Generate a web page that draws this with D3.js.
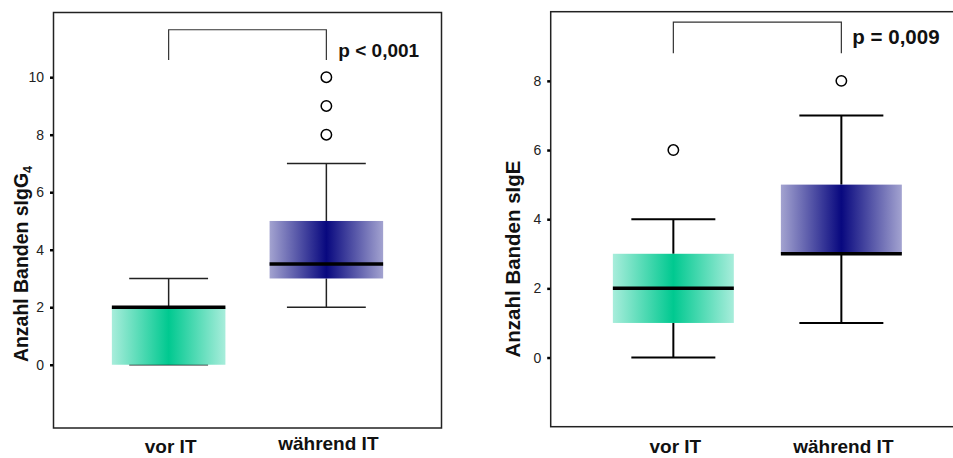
<!DOCTYPE html>
<html>
<head>
<meta charset="utf-8">
<script src="https://cdn.jsdelivr.net/npm/d3@7"></script>
<style>
  body { margin: 0; background: #fff; }
  svg { display: block; font-family: "Liberation Sans", Arial, sans-serif; }
</style>
</head>
<body>
<script>
var groups = ["vor IT", "während IT"];

// Panel 1: Anzahl Banden sIgG4
var g4Ticks = [0, 2, 4, 6, 8, 10];
var g4Low = [0, 2];
var g4Q1 = [0, 3];
var g4Median = [2, 3.5];
var g4Q3 = [2, 5];
var g4High = [3, 7];
var g4Outliers = [[], [8, 9, 10]];

// Panel 2: Anzahl Banden sIgE
var eTicks = [0, 2, 4, 6, 8];
var eLow = [0, 1];
var eQ1 = [1, 3];
var eMedian = [2, 3];
var eQ3 = [3, 5];
var eHigh = [4, 7];
var eOutliers = [[6], [8]];

var pLabels = ["p < 0,001", "p = 0,009"];

var width = 953, height = 458;

var svg = d3.select("body").append("svg")
  .attr("width", width)
  .attr("height", height);

var defs = svg.append("defs");
function grad(id, edge, mid) {
  var g = defs.append("linearGradient").attr("id", id)
    .attr("x1", "0%").attr("x2", "100%").attr("y1", "0%").attr("y2", "0%");
  g.append("stop").attr("offset", "0%").attr("stop-color", edge);
  g.append("stop").attr("offset", "50%").attr("stop-color", mid);
  g.append("stop").attr("offset", "100%").attr("stop-color", edge);
}
grad("gGreen", "#a8eddb", "#00c990");
grad("gBlue", "#a3a3d0", "#08087f");
var fills = ["url(#gGreen)", "url(#gBlue)"];

var panels = [
  { low: g4Low, q1: g4Q1, med: g4Median, q3: g4Q3, high: g4High, out: g4Outliers,
    ticks: g4Ticks, domain: [-2.2, 12.25],
    x0: 53.5, x1: 441.5, y0: 12.5, y1: 428,
    whiskerW: 1.5, whiskerC: "#222",
    label: "Anzahl Banden sIgG", sub: "4", labelX: 21, labelY: 264, labelSize: 20, labelLen: 197,
    bracket: [11.65, 10.6], p: pLabels[0], pdx: 12, pY: 57, pSize: 19,
    xlabY: [453, 450] },
  { low: eLow, q1: eQ1, med: eMedian, q3: eQ3, high: eHigh, out: eOutliers,
    ticks: eTicks, domain: [-2, 10],
    x0: 550.7, x1: 964, y0: 11.7, y1: 426.7,
    whiskerW: 2, whiskerC: "#000",
    label: "Anzahl Banden sIgE", sub: "", labelX: 513, labelY: 259, labelSize: 21, labelLen: 197,
    bracket: [9.7, 8.8], p: pLabels[1], pdx: 11, pY: 44, pSize: 20.5,
    xlabY: [453, 453] }
];

panels.forEach(function(P) {
  var g = svg.append("g");
  var x = d3.scalePoint().domain(groups).range([P.x0, P.x1]).padding(0.73);
  var y = d3.scaleLinear().domain(P.domain).range([P.y1, P.y0]);
  var step = x.step();
  var boxW = step * 0.72, capW = step * 0.5;

  // frame
  g.append("rect")
    .attr("x", P.x0).attr("y", P.y0)
    .attr("width", P.x1 - P.x0).attr("height", P.y1 - P.y0)
    .attr("fill", "none").attr("stroke", "#222").attr("stroke-width", 1.5);

  // y axis: small ticks + labels
  var axis = d3.axisLeft(y).tickValues(P.ticks).tickSize(3).tickPadding(6).tickFormat(d3.format("d"));
  var ax = g.append("g").attr("transform", "translate(" + (P.x0 - 0.5) + ",0)").call(axis);
  ax.select(".domain").remove();
  ax.selectAll(".tick line").attr("stroke", "#000").attr("stroke-width", 2.5);
  ax.selectAll(".tick text")
    .attr("font-size", 14).attr("fill", "#222")
    .attr("font-family", "Liberation Sans, Arial, sans-serif");

  // y label, stretched along its length to match the original
  var t = g.append("text")
    .attr("text-anchor", "middle").attr("dy", "0.35em")
    .attr("font-size", P.labelSize).attr("font-weight", "bold").attr("fill", "#111");
  t.append("tspan").text(P.label);
  if (P.sub) {
    t.append("tspan").attr("font-size", P.labelSize * 0.65).attr("dy", "0.3em").text(P.sub);
  }
  var len = t.node().getBBox().width;
  var s = P.labelLen / len;
  t.attr("transform", "translate(" + P.labelX + "," + P.labelY + ") rotate(-90) scale(" + s + ",1)");

  // whiskers
  groups.forEach(function(grp, i) {
    var cx = x(grp);
    g.append("line").attr("x1", cx).attr("x2", cx)
      .attr("y1", y(P.q3[i])).attr("y2", y(P.high[i]))
      .attr("stroke", P.whiskerC).attr("stroke-width", P.whiskerW);
    g.append("line").attr("x1", cx).attr("x2", cx)
      .attr("y1", y(P.q1[i])).attr("y2", y(P.low[i]))
      .attr("stroke", P.whiskerC).attr("stroke-width", P.whiskerW);
    [P.high[i], P.low[i]].forEach(function(v) {
      g.append("line").attr("x1", cx - capW / 2).attr("x2", cx + capW / 2)
        .attr("y1", y(v)).attr("y2", y(v))
        .attr("stroke", P.whiskerC).attr("stroke-width", P.whiskerW);
    });
  });

  // boxes
  g.selectAll("rect.box").data(groups).enter().append("rect")
    .attr("class", "box")
    .attr("x", function(d) { return x(d) - boxW / 2; })
    .attr("y", function(d, i) { return y(P.q3[i]); })
    .attr("width", boxW)
    .attr("height", function(d, i) { return y(P.q1[i]) - y(P.q3[i]); })
    .attr("fill", function(d, i) { return fills[i]; });

  // medians
  g.selectAll("line.med").data(groups).enter().append("line")
    .attr("class", "med")
    .attr("x1", function(d) { return x(d) - boxW / 2; })
    .attr("x2", function(d) { return x(d) + boxW / 2; })
    .attr("y1", function(d, i) { return y(P.med[i]); })
    .attr("y2", function(d, i) { return y(P.med[i]); })
    .attr("stroke", "#000").attr("stroke-width", 3.5);

  // outliers
  groups.forEach(function(grp, i) {
    g.selectAll(null).data(P.out[i]).enter().append("circle")
      .attr("cx", x(grp)).attr("cy", function(d) { return y(d); })
      .attr("r", 5.2)
      .attr("fill", "#fff").attr("stroke", "#000").attr("stroke-width", 1.5);
  });

  // significance bracket
  var xa = x(groups[0]), xb = x(groups[1]);
  g.append("path")
    .attr("d", "M" + xa + "," + y(P.bracket[1]) + "V" + y(P.bracket[0]) + "H" + xb + "V" + y(P.bracket[1]))
    .attr("fill", "none").attr("stroke", "#333").attr("stroke-width", 1.2);
  g.append("text")
    .attr("x", xb + P.pdx).attr("y", P.pY)
    .attr("font-size", P.pSize).attr("font-weight", "bold").attr("fill", "#111")
    .text(P.p);

  // category labels
  g.selectAll("text.cat").data(groups).enter().append("text")
    .attr("class", "cat")
    .attr("x", function(d) { return x(d) + 2; })
    .attr("y", function(d, i) { return P.xlabY[i]; })
    .attr("text-anchor", "middle")
    .attr("font-size", 19).attr("font-weight", "bold").attr("fill", "#111")
    .text(function(d) { return d; });
});
</script>
</body>
</html>
